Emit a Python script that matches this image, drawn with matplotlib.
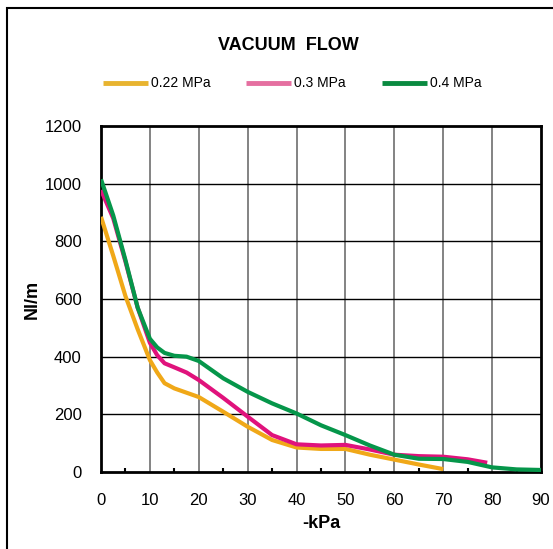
import numpy as np
import matplotlib
matplotlib.use("Agg")
import matplotlib.pyplot as plt
from matplotlib.lines import Line2D
from matplotlib.patches import Rectangle

plt.rcParams['font.family'] = ['Liberation Sans', 'DejaVu Sans']

# Data (-kPa vs Nl/m)
kpa_04 = [0, 2.5, 5, 7.5, 10, 11.5, 13, 15, 17.5, 20, 25, 30, 35, 40, 45, 50, 55, 60, 65, 70, 75, 80, 85, 90]
flow_04 = [1015, 890, 735, 570, 462, 432, 413, 403, 400, 385, 325, 278, 238, 203, 162, 128, 92, 60, 46, 45, 35, 16, 9, 7]

kpa_03 = [0, 2.5, 5, 7.5, 10, 11.5, 13, 15, 17.5, 20, 25, 30, 35, 40, 45, 50, 55, 60, 65, 70, 75, 79]
flow_03 = [978, 880, 730, 570, 448, 405, 377, 363, 345, 319, 257, 192, 128, 96, 92, 94, 78, 60, 55, 53, 44, 32]

kpa_022 = [0, 2.5, 5, 7.5, 10, 11.5, 13, 15, 17.5, 20, 25, 30, 35, 40, 45, 50, 55, 60, 65, 70]
flow_022 = [885, 750, 610, 495, 388, 345, 308, 290, 275, 260, 209, 157, 111, 85, 80, 80, 60, 43, 26, 10]

labels = ['0.22 MPa', '0.3 MPa', '0.4 MPa']
line_colors = ['#F0A818', '#E0127C', '#05964A']
legend_colors = ['#E8B430', '#E56FA0', '#0A8A40']

fig = plt.figure(figsize=(5.53, 5.49), dpi=100)
ax = fig.add_axes([101/553, 77/549, 440/553, 346/549])

ax.plot(kpa_022, flow_022, color=line_colors[0], lw=3, solid_capstyle='butt',
        solid_joinstyle='round', zorder=3)
ax.plot(kpa_03, flow_03, color=line_colors[1], lw=3, solid_capstyle='butt',
        solid_joinstyle='round', zorder=4)
ax.plot(kpa_04, flow_04, color=line_colors[2], lw=3, solid_capstyle='butt',
        solid_joinstyle='round', zorder=5)

ax.set_xlim(0, 90)
ax.set_ylim(0, 1200)
ax.set_xticks(np.arange(0, 91, 10))
ax.set_xticks(np.arange(5, 90, 10), minor=True)
ax.set_yticks(np.arange(0, 1201, 200))
ax.grid(False)
for xv in range(10, 90, 10):
    ax.axvline(xv, color='#7a7a7a', lw=1.3, zorder=1)
for yv in range(200, 1200, 200):
    ax.axhline(yv, color='black', lw=1.0, zorder=1)

ax.tick_params(axis='x', which='major', length=0, pad=15, labelsize=12)
ax.tick_params(axis='x', which='minor', direction='in', length=3, width=1.5)
ax.tick_params(axis='y', length=0, pad=14, labelsize=12)
for s in ax.spines.values():
    s.set_linewidth(2)

ax.set_xlabel('-kPa', fontsize=13, fontweight='bold', labelpad=5)
ax.set_ylabel('Nl/m', fontsize=13, fontweight='bold')
ax.yaxis.set_label_coords(-0.138, 0.5)

fig.text(288/553, 1 - 46/549, 'VACUUM  FLOW', ha='center', va='center',
         fontsize=13, fontweight='bold')

# legend drawn by hand
leg_x = [103, 246, 382]
for i in range(3):
    x0 = leg_x[i] / 553
    y0 = 1 - 83/549
    fig.add_artist(Line2D([x0, x0 + 45/553], [y0, y0], color=legend_colors[i], lw=3.5,
                          solid_capstyle='butt', transform=fig.transFigure))
    fig.text(x0 + 48/553, y0, labels[i], ha='left', va='center', fontsize=10)

# outer frame
fig.add_artist(Rectangle((7/553, -0.05), 1.2, 1.05 - 8/549, transform=fig.transFigure,
                         fill=False, edgecolor='black', lw=1.5))

fig.savefig('out.png', dpi=100)
